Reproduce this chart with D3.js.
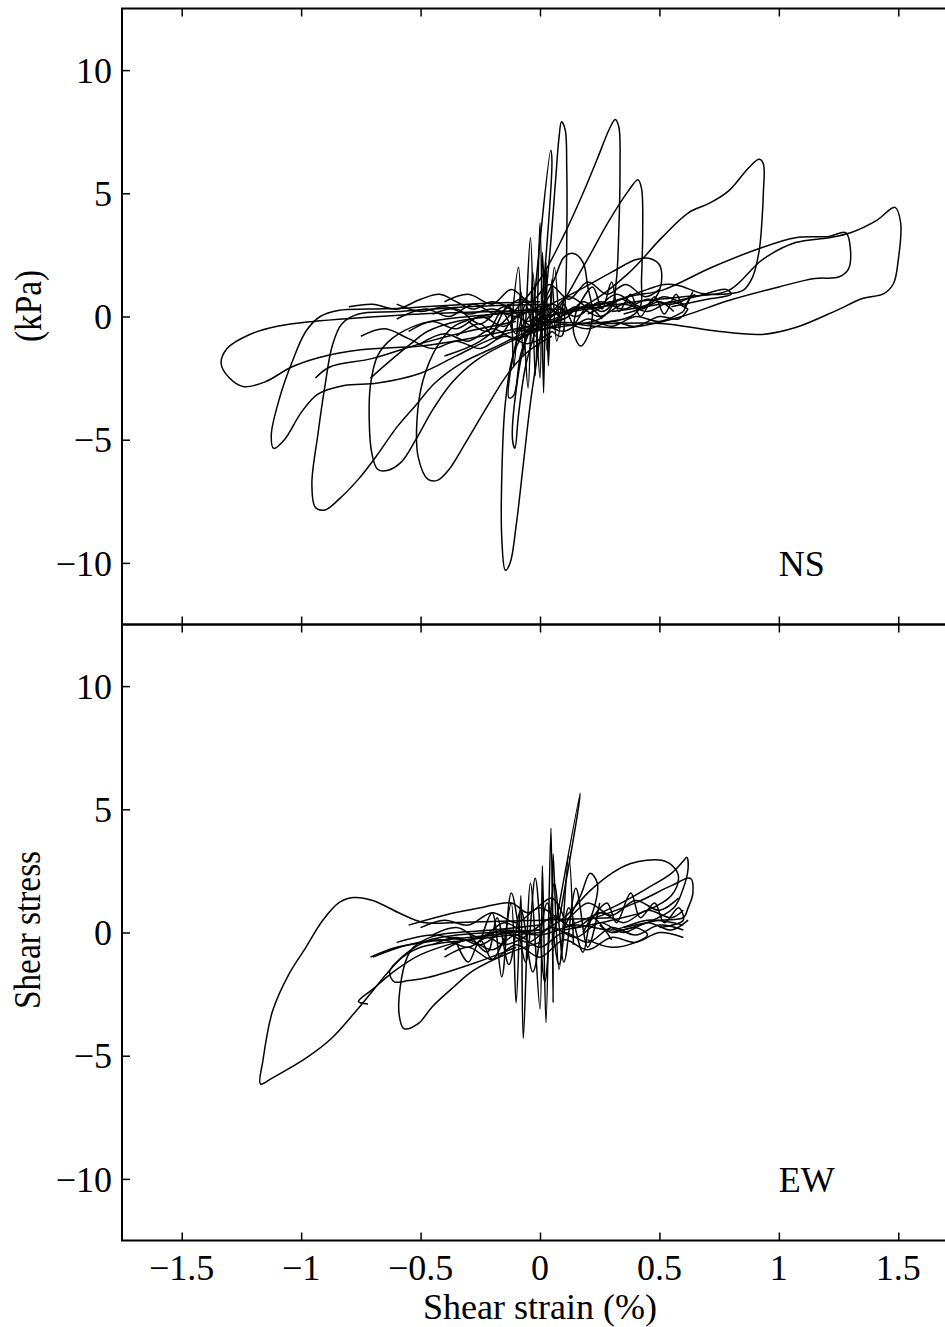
<!DOCTYPE html>
<html>
<head>
<meta charset="utf-8">
<script src="https://cdn.jsdelivr.net/npm/d3@7"></script>
<style>
  body { margin: 0; background: #fff; }
  text { font-family: "Liberation Serif", "DejaVu Serif", serif; fill: #000; }
</style>
</head>
<body>
<div id="chart"></div>
<script>
// ---- data (shear strain %, shear stress kPa) ----
var strainTicks = [-1.5, -1, -0.5, 0, 0.5, 1, 1.5];
var stressTicks = [-10, -5, 0, 5, 10];
var panelNames = ["NS", "EW"];

// NS: large hysteresis loops
var nsOuter = [
  [[0.1,0.3],[-0.2,0.2],[-0.5,0.1],[-0.75,-0.05],[-0.95,-0.2],[-1.1,-0.4],[-1.22,-0.75],[-1.31,-1.3],[-1.335,-1.9],[-1.3,-2.5],[-1.24,-2.85],[-1.15,-2.65],[-1.04,-2.05],[-0.92,-1.65],[-0.75,-1.35],[-0.5,-1.2],[-0.3,-0.9],[-0.1,-0.5],[0.1,-0.1]],
  [[0.0,0.6],[-0.3,0.5],[-0.55,0.35],[-0.72,0.3],[-0.84,0.25],[-0.92,0.0],[-0.98,-0.6],[-1.04,-1.9],[-1.09,-3.3],[-1.125,-4.8],[-1.115,-5.35],[-1.07,-5.0],[-1.0,-3.9],[-0.93,-3.15],[-0.82,-2.8],[-0.68,-2.7],[-0.5,-2.3],[-0.35,-1.6],[-0.2,-0.9],[0.0,-0.3]],
  [[0.05,0.5],[-0.3,0.4],[-0.6,0.2],[-0.76,0.1],[-0.83,-0.3],[-0.87,-1.2],[-0.9,-2.8],[-0.93,-4.8],[-0.955,-6.8],[-0.94,-7.75],[-0.9,-7.85],[-0.84,-7.4],[-0.76,-6.6],[-0.68,-5.6],[-0.6,-4.5],[-0.52,-3.6],[-0.44,-2.7],[-0.33,-1.9],[-0.19,-1.25],[-0.05,-0.6],[0.1,-0.1]],
  [[0.0,0.2],[-0.3,0.0],[-0.5,-0.3],[-0.62,-0.9],[-0.68,-1.6],[-0.71,-2.8],[-0.715,-4.2],[-0.705,-5.5],[-0.68,-6.2],[-0.64,-6.25],[-0.58,-5.9],[-0.52,-5.0],[-0.45,-3.8],[-0.37,-2.7],[-0.27,-1.8],[-0.12,-1.0],[0.05,-0.4]],
  [[0.05,0.3],[-0.2,0.1],[-0.36,-0.4],[-0.43,-1.2],[-0.49,-2.6],[-0.515,-4.2],[-0.51,-5.7],[-0.47,-6.6],[-0.43,-6.65],[-0.38,-6.2],[-0.31,-5.1],[-0.23,-3.8],[-0.14,-2.4],[-0.06,-1.5],[0.05,-0.8]],
  [[0.3,0.6],[0.1,0.2],[-0.05,-0.5],[-0.11,-1.5],[-0.145,-3.5],[-0.16,-6.5],[-0.16,-9.0],[-0.145,-10.3],[-0.125,-10.0],[-0.1,-8.5],[-0.07,-6.0],[-0.04,-3.5],[-0.01,-1.5],[0.02,0.5],[0.045,3.0],[0.065,5.5],[0.08,7.3],[0.09,7.9],[0.105,7.6],[0.112,6.0],[0.112,3.0],[0.105,0.5],[0.09,-0.8],[0.05,-0.6]],
  [[-0.4,-1.6],[-0.25,-1.0],[-0.1,0.3],[0.0,1.5],[0.1,3.3],[0.18,5.0],[0.24,6.4],[0.29,7.6],[0.315,8.0],[0.33,7.7],[0.335,6.0],[0.33,3.5],[0.32,1.5],[0.3,0.4],[0.25,-0.1],[0.1,-0.4],[-0.1,-0.6]],
  [[-0.1,-1.0],[0.05,0.0],[0.18,2.0],[0.29,3.9],[0.37,5.1],[0.41,5.55],[0.425,5.2],[0.43,3.5],[0.425,1.5],[0.42,0.4],[0.38,0.0],[0.2,-0.3]],
  [[0.0,-0.3],[0.2,0.5],[0.37,1.75],[0.51,3.2],[0.62,4.2],[0.71,4.6],[0.79,5.1],[0.875,6.05],[0.918,6.38],[0.935,6.2],[0.935,5.0],[0.93,4.0],[0.918,2.7],[0.89,1.6],[0.85,1.06],[0.76,0.9],[0.68,0.93],[0.58,1.26],[0.52,1.3],[0.45,1.1],[0.3,0.6],[0.1,0.2]],
  [[0.0,0.0],[0.2,0.3],[0.4,0.6],[0.6,0.8],[0.79,1.06],[0.93,2.3],[1.07,3.0],[1.21,3.2],[1.3,3.4],[1.41,3.9],[1.486,4.43],[1.51,3.8],[1.5,2.3],[1.48,1.34],[1.44,0.93],[1.35,0.73],[1.24,0.24],[1.07,-0.45],[0.93,-0.73],[0.72,-0.57],[0.51,-0.28],[0.23,-0.28],[0.0,-0.2]],
  [[0.2,0.1],[0.37,0.8],[0.51,1.06],[0.72,2.0],[0.93,2.8],[1.07,3.2],[1.21,3.25],[1.28,3.4],[1.30,2.7],[1.29,1.9],[1.25,1.6],[1.15,1.54],[1.0,1.2],[0.79,0.65],[0.58,-0.04],[0.37,-0.45],[0.15,-0.3]],
  [[0.0,0.3],[0.15,1.0],[0.3,1.8],[0.4,2.3],[0.455,2.36],[0.5,2.1],[0.51,1.6],[0.5,1.06],[0.46,0.5],[0.35,0.1]],
  [[0.0,0.5],[-0.08,-0.5],[-0.12,-2.0],[-0.13,-3.3],[-0.11,-3.2],[-0.08,-1.5],[-0.02,0.0]],
  [[0.05,1.0],[-0.06,-1.0],[-0.1,-3.0],[-0.115,-5.0],[-0.105,-5.35],[-0.09,-4.0],[-0.06,-2.0],[0.0,0.0]],
  [[-0.04,-1.0],[0.045,6.75],[0.05,6.3],[0.0,-0.5]],
  [[-0.94,-2.5],[-0.88,-2.05],[-0.7,-1.7],[-0.5,-1.1],[-0.3,-0.6],[-0.1,-0.2]],
  [[-0.71,-2.5],[-0.64,-1.9],[-0.54,-1.1],[-0.47,-0.6],[-0.35,-0.2],[-0.2,0.0]]
];

// NS: dense core around the origin
var nsCore = [
  [[-0.55,-0.6],[-0.45,-0.2],[-0.35,-0.5],[-0.25,0.0],[-0.15,-0.4],[-0.05,0.3],[0.05,-0.2],[0.15,0.4],[0.25,0.0],[0.35,0.5],[0.45,0.2],[0.55,0.6],[0.62,0.3]],
  [[-0.6,-0.1],[-0.48,0.3],[-0.38,0.0],[-0.28,0.5],[-0.18,0.1],[-0.08,0.7],[0.02,0.0],[0.12,0.8],[0.22,0.3],[0.32,0.9],[0.42,0.4],[0.52,0.8],[0.6,0.5]],
  [[-0.5,-1.1],[-0.4,-0.7],[-0.3,-1.0],[-0.2,-0.5],[-0.1,-0.9],[0.0,-0.3],[0.1,-0.6],[0.2,-0.1],[0.3,-0.4],[0.4,0.0],[0.5,-0.2],[0.6,0.2]],
  [[-0.4,0.6],[-0.3,0.9],[-0.2,0.5],[-0.12,1.1],[-0.04,0.6],[0.04,1.3],[0.12,0.7],[0.2,1.4],[0.28,0.9],[0.36,1.3],[0.44,0.8],[0.5,1.1]],
  [[-0.3,-0.2],[-0.22,-0.6],[-0.16,0.2],[-0.1,-0.7],[-0.06,0.5],[-0.02,-0.8],[0.02,0.6],[0.06,-0.5],[0.1,0.5],[0.14,-0.3],[0.2,0.4],[0.26,-0.1]],
  [[-0.12,-0.5],[-0.09,2.0],[-0.07,-1.6],[-0.04,3.2],[-0.02,-2.4],[0.0,3.8],[0.015,-3.1],[0.025,2.2],[0.035,-2.0],[0.05,1.5],[0.07,-1.0],[0.1,0.8]],
  [[-0.2,-0.8],[-0.13,0.5],[-0.11,-2.0],[-0.08,1.0],[-0.05,-2.9],[-0.03,1.8],[0.0,-2.5],[0.01,2.6],[0.03,-1.4],[0.06,2.0],[0.08,-0.5]],
  [[0.15,0.2],[0.22,1.2],[0.26,0.3],[0.3,1.4],[0.33,0.2],[0.38,0.9],[0.42,0.0],[0.48,0.8],[0.52,0.1],[0.57,0.9],[0.6,0.4],[0.64,1.0],[0.6,0.2]],
  [[0.0,0.3],[0.06,1.5],[0.1,2.4],[0.14,2.56],[0.18,2.2],[0.2,1.2],[0.22,0.2],[0.2,-0.8],[0.17,-1.2],[0.14,-0.6],[0.16,0.5]],
  [[-0.8,0.4],[-0.7,0.5],[-0.6,0.3],[-0.5,0.7],[-0.42,0.9],[-0.35,0.6],[-0.28,0.3],[-0.2,0.6],[-0.1,0.2]],
  [[-0.75,-0.8],[-0.65,-0.5],[-0.55,-0.9],[-0.45,-1.3],[-0.35,-1.0],[-0.25,-1.3],[-0.15,-0.8],[-0.05,-1.1],[0.05,-0.6]],
  [[0.0,-0.6],[0.1,-0.3],[0.2,-0.5],[0.3,-0.2],[0.4,-0.4],[0.5,0.0],[0.58,-0.1],[0.62,0.3]],
  [[0.3,0.2],[0.5,0.5],[0.65,0.8],[0.78,1.1],[0.8,0.9],[0.7,0.7],[0.55,0.4]],
  [[-0.45,0.1],[-0.35,0.3],[-0.25,-0.3],[-0.15,0.4],[-0.05,-0.2],[0.05,0.5],[0.15,0.0],[0.25,0.6],[0.35,0.3],[0.45,0.7],[0.55,0.5],[0.65,0.9]],
  [[-0.35,-0.8],[-0.25,-0.3],[-0.18,-0.9],[-0.1,0.0],[-0.03,-0.4],[0.03,0.4],[0.1,-0.1],[0.18,0.6],[0.26,0.2],[0.34,0.7],[0.42,0.3],[0.5,0.6],[0.56,0.2]],
  [[-0.6,0.5],[-0.5,0.2],[-0.4,0.4],[-0.3,0.1],[-0.2,0.3],[-0.1,0.0],[0.0,0.4],[0.1,0.1],[0.2,0.5]]
];

// EW: large loops
var ewOuter = [
  [[0.3,0.6],[0.0,0.5],[-0.345,0.41],[-0.49,0.41],[-0.585,0.77],[-0.7,1.3],[-0.78,1.42],[-0.84,1.22],[-0.91,0.49],[-0.98,-0.6],[-1.05,-1.67],[-1.12,-3.2],[-1.16,-5.2],[-1.17,-6.15],[-1.12,-5.9],[-0.98,-5.1],[-0.87,-4.27],[-0.78,-3.3],[-0.7,-2.36],[-0.63,-1.54],[-0.56,-0.85],[-0.47,-0.33],[-0.36,-0.12],[-0.2,0.0],[0.0,0.1]],
  [[0.0,0.3],[-0.2,0.1],[-0.4,-0.05],[-0.46,-0.2],[-0.53,-0.6],[-0.56,-1.1],[-0.585,-2.2],[-0.59,-3.3],[-0.57,-3.9],[-0.51,-3.7],[-0.45,-3.0],[-0.36,-2.2],[-0.28,-1.55],[-0.135,-0.85],[0.0,-0.4]],
  [[0.0,0.0],[-0.3,-0.3],[-0.5,-0.6],[-0.6,-1.2],[-0.63,-1.6],[-0.61,-2.0],[-0.55,-1.95],[-0.47,-1.83],[-0.28,-1.26],[-0.1,-0.6]],
  [[-0.72,-2.9],[-0.76,-2.8],[-0.7,-2.3],[-0.6,-1.5],[-0.5,-0.9],[-0.35,-0.4],[-0.2,-0.1],[0.0,0.1]],
  [[-0.71,-1.0],[-0.6,-0.6],[-0.45,-0.35],[-0.3,-0.2],[-0.1,0.0]],
  [[0.0,0.0],[0.1,0.6],[0.21,1.7],[0.3,2.4],[0.38,2.8],[0.51,2.93],[0.565,2.6],[0.58,2.2],[0.55,1.5],[0.45,0.9],[0.3,0.5],[0.1,0.1]],
  [[0.1,0.2],[0.3,1.0],[0.45,1.8],[0.55,2.4],[0.6,2.9],[0.615,3.05],[0.62,2.6],[0.6,1.8],[0.56,1.0],[0.45,0.4],[0.3,0.0]],
  [[0.2,0.5],[0.4,1.2],[0.55,1.9],[0.63,2.2],[0.64,1.6],[0.62,1.0],[0.6,0.6],[0.5,0.5],[0.35,0.2]],
  [[0.05,-0.5],[0.168,5.65],[0.16,5.0],[0.08,0.5]],
  [[0.1,0.2],[0.17,1.5],[0.21,2.4],[0.24,2.0],[0.22,0.8],[0.18,0.0]]
];

// EW: dense core
var ewCore = [
  [[-0.45,-0.5],[-0.35,-0.2],[-0.25,-0.5],[-0.15,0.0],[-0.05,-0.4],[0.05,0.2],[0.15,-0.2],[0.25,0.4],[0.35,0.0],[0.45,0.4],[0.55,0.1],[0.62,0.5]],
  [[-0.5,0.2],[-0.4,0.5],[-0.3,0.3],[-0.2,0.8],[-0.1,0.4],[0.0,1.0],[0.1,0.5],[0.2,1.2],[0.3,0.7],[0.4,1.3],[0.5,0.9],[0.58,1.4]],
  [[-0.4,-1.0],[-0.3,-0.6],[-0.2,-1.1],[-0.1,-0.5],[0.0,-1.0],[0.1,-0.3],[0.2,-0.7],[0.3,-0.2],[0.4,-0.4],[0.5,0.0],[0.6,-0.2]],
  [[-0.15,-0.5],[-0.12,1.2],[-0.1,-2.85],[-0.08,1.5],[-0.07,-4.3],[-0.04,2.0],[0.0,-3.1],[0.01,2.7],[0.025,-3.66],[0.046,4.23],[0.055,-2.85],[0.055,3.2],[0.08,-1.5],[0.12,3.1],[0.14,-0.5]],
  [[-0.25,-0.4],[-0.2,0.8],[-0.16,-1.8],[-0.12,1.6],[-0.06,-1.2],[-0.02,2.2],[0.02,-2.0],[0.06,2.0],[0.1,-1.2],[0.15,1.8],[0.2,-0.6],[0.25,1.2]],
  [[-0.3,0.0],[-0.22,-0.8],[-0.18,0.6],[-0.13,-1.3],[-0.08,0.9],[-0.03,-1.6],[0.03,1.2],[0.08,-1.3],[0.12,1.0],[0.18,-0.8],[0.22,0.6],[0.3,-0.3]],
  [[0.2,0.3],[0.28,1.2],[0.32,0.4],[0.38,1.6],[0.42,0.6],[0.48,1.2],[0.52,0.4],[0.58,1.0],[0.6,0.5],[0.5,0.2]],
  [[-0.7,-1.0],[-0.55,-0.5],[-0.4,-0.3],[-0.3,-0.6],[-0.22,-0.2],[-0.15,-0.5],[-0.05,-0.1]],
  [[-0.55,0.3],[-0.4,0.7],[-0.25,1.0],[-0.12,1.2],[-0.05,0.8],[0.05,1.4],[0.1,0.6]],
  [[-0.35,-0.4],[-0.3,-1.2],[-0.25,-0.3],[-0.2,-1.1],[-0.15,-0.2]],
  [[0.2,-0.3],[0.3,-0.6],[0.4,-0.4],[0.45,-0.1],[0.4,0.2],[0.3,0.0],[0.25,0.3]],
  [[-0.45,-0.1],[-0.35,0.2],[-0.25,-0.2],[-0.15,0.4],[-0.05,0.0],[0.05,0.6],[0.15,0.2],[0.25,0.8],[0.35,0.4],[0.45,0.9],[0.55,0.6],[0.6,0.9]],
  [[-0.4,-0.7],[-0.3,-0.3],[-0.2,-0.7],[-0.1,-0.1],[0.0,-0.6],[0.1,0.0],[0.2,-0.4],[0.3,0.2],[0.4,-0.1],[0.5,0.3],[0.6,0.1]],
  [[-0.6,-0.4],[-0.45,-0.1],[-0.3,-0.3],[-0.15,0.1],[0.0,-0.1],[0.15,0.3],[0.3,0.1],[0.45,0.5],[0.6,0.3]]
];

var panels = [
  { name: panelNames[0], curves: nsOuter.concat(nsCore) },
  { name: panelNames[1], curves: ewOuter.concat(ewCore) }
];

// ---- layout ----
var W = 945, H = 1327;
var left = 122, right = 958, top0 = 8.5, panelH = 616;
var tick = 8;

var svg = d3.select("#chart").append("svg")
    .attr("width", W)
    .attr("height", H);

var x = d3.scaleLinear().domain([-1.75, 1.75]).range([left, right]);

svg.append("defs").selectAll("clipPath")
    .data(panels)
  .enter().append("clipPath")
    .attr("id", function(d, i) { return "clip" + i; })
  .append("rect")
    .attr("x", left)
    .attr("y", function(d, i) { return top0 + i * panelH; })
    .attr("width", right - left)
    .attr("height", panelH);

panels.forEach(function(p, i) {
    var y0 = top0 + i * panelH;
    var y = d3.scaleLinear().domain([-12.5, 12.5]).range([y0 + panelH, y0]);
    var g = svg.append("g");

    var line = d3.line()
        .x(function(d) { return x(d[0]); })
        .y(function(d) { return y(d[1]); })
        .curve(d3.curveCatmullRom.alpha(0.5));

    g.append("g")
        .attr("clip-path", "url(#clip" + i + ")")
      .selectAll("path")
        .data(p.curves)
      .enter().append("path")
        .attr("d", line)
        .attr("fill", "none")
        .attr("stroke", "#000")
        .attr("stroke-width", 1.5)
        .attr("stroke-linejoin", "round");

    // box
    g.append("rect")
        .attr("x", left)
        .attr("y", y0)
        .attr("width", right - left)
        .attr("height", panelH)
        .attr("fill", "none")
        .attr("stroke", "#000")
        .attr("stroke-width", 2);

    // inward ticks
    g.append("g")
        .attr("transform", "translate(0," + (y0 + panelH) + ")")
        .call(d3.axisTop(x).tickValues(strainTicks).tickSize(tick).tickFormat(""))
        .call(function(a) { a.select(".domain").remove(); });
    g.append("g")
        .attr("transform", "translate(0," + y0 + ")")
        .call(d3.axisBottom(x).tickValues(strainTicks).tickSize(tick).tickFormat(""))
        .call(function(a) { a.select(".domain").remove(); });
    var ya = g.append("g")
        .attr("transform", "translate(" + left + ",0)")
        .call(d3.axisRight(y).tickValues(stressTicks).tickSize(tick)
            .tickFormat(function(d) { return String(d).replace("-", "\u2212"); }))
        .call(function(a) { a.select(".domain").remove(); });
    ya.selectAll("text")
        .attr("x", -10)
        .attr("dy", "0.34em")
        .attr("text-anchor", "end")
        .style("font-family", "'Liberation Serif', serif")
        .style("font-size", "36px");
    g.selectAll(".tick line").attr("stroke-width", 1.5);

    g.append("text")
        .attr("x", x(1.0))
        .attr("y", y(-10))
        .attr("dy", "0.35em")
        .style("font-size", "36px")
        .text(p.name);
});

// bottom tick labels
svg.append("g")
    .selectAll("text")
    .data(strainTicks)
  .enter().append("text")
    .attr("x", function(d) { return x(d); })
    .attr("y", 1280)
    .attr("text-anchor", "middle")
    .style("font-size", "36px")
    .text(function(d) { return String(d).replace("-", "\u2212"); });

svg.append("text")
    .attr("x", 540)
    .attr("y", 1319)
    .attr("text-anchor", "middle")
    .style("font-size", "36px")
    .text("Shear strain (%)");

// y label, split into two pieces as in the figure
svg.append("text")
    .attr("transform", "translate(41,306) rotate(-90) scale(0.9,1)")
    .attr("text-anchor", "middle")
    .style("font-size", "37px")
    .text("(kPa)");
svg.append("text")
    .attr("transform", "translate(40,930) rotate(-90) scale(0.9,1)")
    .attr("text-anchor", "middle")
    .style("font-size", "37px")
    .text("Shear stress");
</script>
</body>
</html>
